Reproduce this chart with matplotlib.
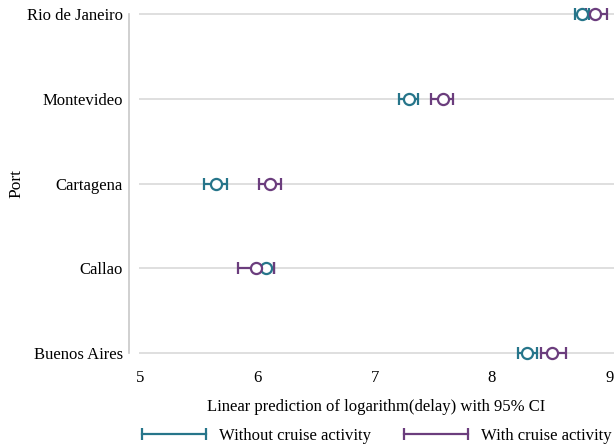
import numpy as np
import matplotlib.pyplot as plt
from matplotlib.lines import Line2D
from matplotlib.legend_handler import HandlerLine2D

plt.rcParams['font.family'] = ['Liberation Serif', 'DejaVu Serif']

# Ports from bottom to top
ports = ["Buenos Aires", "Callao", "Cartagena", "Montevideo", "Rio de Janeiro"]

# Linear predictions with 95% CI bounds
without_est = [8.30, 6.07, 5.65, 7.29, 8.77]
without_lo = [8.22, 6.00, 5.54, 7.21, 8.71]
without_hi = [8.38, 6.14, 5.74, 7.37, 8.83]

with_est = [8.51, 5.99, 6.11, 7.58, 8.88]
with_lo = [8.42, 5.83, 6.01, 7.48, 8.80]
with_hi = [8.63, 6.14, 6.20, 7.67, 8.98]

xticks = [5, 6, 7, 8, 9]

teal = "#26758a"
purple = "#6b3d7d"

fig = plt.figure(figsize=(6.14, 4.47), dpi=100)
ax = fig.add_axes([139 / 614, 1 - 362 / 447, 475 / 614, 362 / 447])

y = np.arange(len(ports))

for est, lo, hi, col in [(without_est, without_lo, without_hi, teal),
                         (with_est, with_lo, with_hi, purple)]:
    est = np.array(est)
    err = np.vstack([est - np.array(lo), np.array(hi) - est])
    ax.errorbar(est, y, xerr=err, fmt='o', color=col, mfc='white', mec=col,
                mew=1.6, ms=8, elinewidth=1.6, capsize=4, capthick=1.6, zorder=3)

for yi in y:
    ax.axhline(yi, color="#d9d9d9", lw=1.2, zorder=1)

ax.set_xlim(4.99, 9.04)
ax.set_ylim(-0.106, 4.165)
ax.set_xticks(xticks)
ax.set_yticks(y)
ax.set_yticklabels(ports)

for s in ["top", "right", "bottom"]:
    ax.spines[s].set_visible(False)
ax.spines["left"].set_position(("outward", 7.5))
ax.spines["left"].set_bounds(0, 4)
ax.spines["left"].set_color("#c8c8c8")
ax.spines["left"].set_linewidth(1.2)

ax.tick_params(axis="both", length=0, labelsize=12)
ax.tick_params(axis="x", pad=6)
ax.tick_params(axis="y", pad=4)

ax.set_xlabel("Linear prediction of logarithm(delay) with 95% CI", fontsize=12, labelpad=9)
ax.set_ylabel("Port", fontsize=12.5)
ax.yaxis.set_label_coords(-0.242, 0.492)

handles = [Line2D([], [], color=teal, lw=1.6, marker='|', ms=8, mew=1.6),
           Line2D([], [], color=purple, lw=1.6, marker='|', ms=8, mew=1.6)]
fig.legend(handles, ["Without cruise activity", "With cruise activity"],
           loc="center", bbox_to_anchor=(377 / 614, 1 - 436 / 447), ncol=2,
           frameon=False, fontsize=12, handlelength=3.8, columnspacing=2.0,
           handletextpad=0.8,
           handler_map={Line2D: HandlerLine2D(marker_pad=0, numpoints=2)})

fig.savefig("out.png", dpi=100)
